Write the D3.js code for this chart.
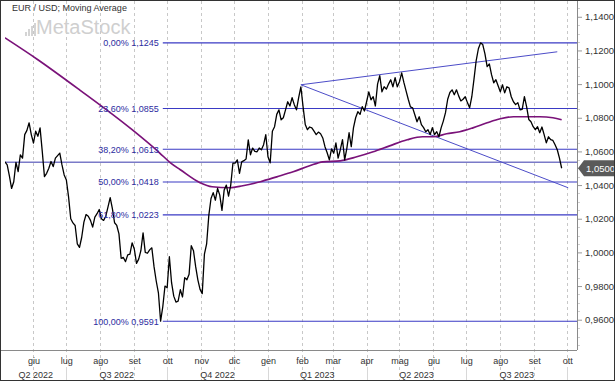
<!DOCTYPE html>
<html><head><meta charset="utf-8">
<script src="https://cdn.jsdelivr.net/npm/d3@7"></script>
<style>
html,body{margin:0;padding:0;background:#fff;}
svg{display:block;font-family:"Liberation Sans",Arial,sans-serif;}
</style></head>
<body><svg id="c" width="615" height="381"></svg>
<script>
// ---- DATA ----
const priceStart = "2022-05-06";
const priceStepDays = 2;
const priceValues = [
1.0538,1.0520,1.0455,1.0380,1.0420,1.0535,1.0480,1.0580,1.0560,1.0700,
1.0725,1.0770,1.0700,1.0650,1.0720,1.0690,1.0740,1.0600,1.0450,1.0470,
1.0500,1.0540,1.0510,1.0560,1.0575,1.0590,1.0520,1.0460,1.0430,1.0330,
1.0200,1.0175,1.0160,1.0050,1.0030,1.0090,1.0180,1.0225,1.0215,1.0190,
1.0150,1.0210,1.0230,1.0255,1.0200,1.0190,1.0215,1.0270,1.0325,1.0260,
1.0176,1.0160,1.0110,0.9965,0.9970,0.9945,0.9985,0.9990,1.0057,1.0020,
0.9935,0.9960,1.0010,1.0116,1.0000,0.9995,1.0015,1.0027,0.9915,0.9830,
0.9760,0.9591,0.9677,0.9800,0.9790,0.9974,0.9820,0.9740,0.9705,0.9710,
0.9778,0.9735,0.9850,0.9837,0.9870,1.0040,1.0010,0.9915,0.9837,0.9780,
0.9755,0.9990,1.0050,1.0220,1.0320,1.0355,1.0310,1.0380,1.0340,1.0250,
1.0370,1.0400,1.0335,1.0400,1.0530,1.0530,1.0550,1.0470,1.0538,1.0545,
1.0555,1.0669,1.0580,1.0620,1.0600,1.0598,1.0620,1.0610,1.0640,1.0699,
1.0568,1.0532,1.0720,1.0747,1.0820,1.0847,1.0788,1.0800,1.0847,1.0895,
1.0870,1.0919,1.0878,1.0847,1.0920,1.0984,1.0866,1.0760,1.0729,1.0745,
1.0740,1.0720,1.0700,1.0715,1.0705,1.0680,1.0628,1.0592,1.0550,1.0615,
1.0590,1.0650,1.0560,1.0610,1.0670,1.0550,1.0620,1.0711,1.0628,1.0740,
1.0800,1.0836,1.0820,1.0866,1.0840,1.0895,1.0954,1.0907,1.0925,1.0870,
1.1000,1.1050,1.0954,1.0984,1.0970,1.1000,1.1026,1.0984,1.1038,1.0984,
1.1014,1.1067,1.1010,1.0960,1.0910,1.0865,1.0859,1.0818,1.0776,1.0806,
1.0759,1.0741,1.0717,1.0729,1.0700,1.0741,1.0700,1.0717,1.0687,1.0740,
1.0780,1.0830,1.0910,1.0950,1.0966,1.0937,1.0966,1.0930,1.0900,1.0910,
1.0925,1.0890,1.0859,1.0925,1.1030,1.1140,1.1210,1.1245,1.1235,1.1180,
1.1104,1.1120,1.1056,1.1008,1.1026,1.0990,1.0954,1.0996,1.0948,1.0984,
1.0978,1.0925,1.0895,1.0878,1.0890,1.0847,1.0850,1.0925,1.0866,1.0790,
1.0776,1.0747,1.0729,1.0747,1.0711,1.0745,1.0700,1.0651,1.0687,1.0670,
1.0665,1.0640,1.0610,1.0560,1.0500
];
const maDates = ["2022-05-06","2022-06-05","2022-07-13","2022-08-30","2022-09-24","2022-10-04","2022-10-13","2022-10-31","2022-11-11","2022-11-27","2022-12-09","2022-12-25","2023-01-09","2023-01-24","2023-02-08","2023-02-20","2023-03-08","2023-03-23","2023-04-07","2023-04-22","2023-05-08","2023-05-22","2023-06-01","2023-06-13","2023-06-25","2023-07-07","2023-07-20","2023-08-01","2023-08-13","2023-08-25","2023-09-06","2023-09-18","2023-09-26"];
const maValues = [1.1275,1.1145,1.0966,1.0729,1.0592,1.0532,1.0491,1.0414,1.0390,1.0384,1.0396,1.0420,1.0449,1.0479,1.0515,1.0538,1.0544,1.0568,1.0598,1.0633,1.0669,1.0687,1.0687,1.0705,1.0717,1.0740,1.0770,1.0794,1.0806,1.0806,1.0806,1.0800,1.0788];
const fibPercents = ["0,00%","23,60%","38,20%","50,00%","61,80%","100,00%"];
const fibValues = [1.1245,1.0855,1.0613,1.0418,1.0223,0.9591];
const fibStart = "2022-09-27";
const hLineValue = 1.0535;
const lastPrice = 1.0500;
const trendUpper = {dates:["2023-01-31","2023-09-22"], values:[1.0996,1.1192]};
const trendLower = {dates:["2023-01-31","2023-10-02"], values:[1.0996,1.0384]};
const yTicks = [0.96,0.98,1.00,1.02,1.04,1.06,1.08,1.10,1.12,1.14];
const monthLabels = ["giu","lug","ago","set","ott","nov","dic","gen","feb","mar","apr","mag","giu","lug","ago","set","ott"];
const quarterLabels = ["Q2 2022","Q3 2022","Q4 2022","Q1 2023","Q2 2023","Q3 2023"];
const quarterStarts = ["2022-04-01","2022-07-01","2022-10-01","2023-01-01","2023-04-01","2023-07-01","2023-10-01"];
const titleText = "EUR / USD; Moving Average";

// ---- SETUP ----
const parse = d3.timeParse("%Y-%m-%d");
const L = 5, R = 577, T = 5, B = 350;
const x = d3.scaleTime().domain([new Date(2022,4,6), new Date(2023,9,10)]).range([L, R]);
const y = d3.scaleLinear().domain([0.942, 1.147]).range([B, T]);
const fmt4 = v => v.toFixed(4).replace(".", ",");
const svg = d3.select("#c");

const start = parse(priceStart);
const price = priceValues.map((v,i) => ({d: d3.timeDay.offset(start, i*priceStepDays), v}));
const ma = maValues.map((v,i) => ({d: parse(maDates[i]), v}));

svg.append("defs").append("clipPath").attr("id","clip")
  .append("rect").attr("x",L).attr("y",0).attr("width",R-L).attr("height",B);

const monthDates = d3.timeMonth.range(new Date(2022,5,1), new Date(2023,9,2));

// gridlines
svg.append("g").selectAll("line").data(monthDates).join("line")
  .attr("x1", d=>Math.round(x(d))+0.5).attr("x2", d=>Math.round(x(d))+0.5)
  .attr("y1", 1).attr("y2", 380)
  .attr("stroke","#c8c8c8").attr("stroke-dasharray","3,3").attr("stroke-width",1);

// quarter separators in label area
const qd = quarterStarts.map(parse);
svg.append("g").selectAll("line").data(qd.filter(d=>x(d)>L && x(d)<R)).join("line")
  .attr("x1", d=>Math.round(x(d))+0.5).attr("x2", d=>Math.round(x(d))+0.5)
  .attr("y1", 367).attr("y2", 380).attr("stroke","#d8d8d8");

// watermark
const wm = svg.append("g");
[[25,4],[28,7],[31,10],[34,13]].forEach(([bx,bh])=>{
  wm.append("rect").attr("x",bx).attr("y",36-bh).attr("width",2).attr("height",bh).attr("fill","#d4d4d4");
});
wm.append("text").attr("x",36).attr("y",34).attr("font-size",20).attr("fill","#cfcfcf").text("MetaStock");

// title
svg.append("text").attr("x",12).attr("y",11).attr("font-size",9).attr("fill","#333").text(titleText);

const plot = svg.append("g").attr("clip-path","url(#clip)");

// horizontal line
plot.append("line").attr("x1",L).attr("x2",R).attr("y1",y(hLineValue)).attr("y2",y(hLineValue))
  .attr("stroke","#7a7ac8").attr("stroke-width",1.5);

// fib lines
const fx = x(parse(fibStart));
plot.append("g").selectAll("line").data(fibValues).join("line")
  .attr("x1", fx).attr("x2", R).attr("y1", d=>y(d)).attr("y2", d=>y(d))
  .attr("stroke","#3a3ac4").attr("stroke-width",1.1);

// trend lines
[trendUpper, trendLower].forEach(t=>{
  plot.append("line")
    .attr("x1", x(parse(t.dates[0]))).attr("y1", y(t.values[0]))
    .attr("x2", x(parse(t.dates[1]))).attr("y2", y(t.values[1]))
    .attr("stroke","#4c4cc8").attr("stroke-width",1);
});

// MA
plot.append("path").datum(ma)
  .attr("d", d3.line().x(d=>x(d.d)).y(d=>y(d.v)).curve(d3.curveMonotoneX))
  .attr("fill","none").attr("stroke","#7a1279").attr("stroke-width",1.7);

// price
plot.append("path").datum(price)
  .attr("d", d3.line().x(d=>x(d.d)).y(d=>y(d.v)))
  .attr("fill","none").attr("stroke","#000").attr("stroke-width",1.3).attr("stroke-linejoin","round");

// fib labels
svg.append("g").selectAll("text").data(fibValues).join("text")
  .attr("x", fx - 4).attr("y", d=>y(d)+3.4).attr("text-anchor","end")
  .attr("font-size",9).attr("fill","#2c2ca0")
  .text((d,i)=>fibPercents[i]+" "+fmt4(d));

// right axis
const ax = svg.append("g").attr("transform",`translate(${R},0)`);
const minor = d3.range(0.945, 1.146, 0.005).filter(v=>!yTicks.some(t=>Math.abs(t-v)<1e-6));
ax.selectAll("line.minor").data(minor).join("line").attr("class","minor")
  .attr("x1",0).attr("x2",3).attr("y1",d=>Math.round(y(d))+0.5).attr("y2",d=>Math.round(y(d))+0.5)
  .attr("stroke","#d0d0d0");
const yAxis = d3.axisRight(y).tickValues(yTicks).tickSize(5).tickPadding(3).tickFormat(fmt4);
ax.call(yAxis);
ax.select(".domain").remove();
ax.selectAll(".tick line").attr("stroke","#999");
ax.selectAll(".tick text").attr("font-size",9.5).attr("fill","#333").attr("font-family","Liberation Sans, Arial, sans-serif");
svg.append("line").attr("x1",R+0.5).attr("x2",R+0.5).attr("y1",0).attr("y2",B).attr("stroke","#8a8a8a");

// bottom axis
svg.append("line").attr("x1",0).attr("x2",R).attr("y1",B+0.5).attr("y2",B+0.5).attr("stroke","#8a8a8a");
const xAxis = d3.axisBottom(x).tickValues(monthDates).tickSize(0).tickPadding(8).tickFormat((d,i)=>monthLabels[i]);
const bx = svg.append("g").attr("transform",`translate(0,${B})`).call(xAxis);
bx.select(".domain").remove();
bx.selectAll(".tick text").attr("font-size",9).attr("fill","#333").attr("font-family","Liberation Sans, Arial, sans-serif");

// quarter labels
svg.append("g").selectAll("text").data(quarterLabels).join("text")
  .attr("x",(d,i)=>(Math.max(L,x(qd[i]))+Math.min(R-10,x(qd[i+1])))/2)
  .attr("y",378).attr("text-anchor","middle").attr("font-size",9).attr("fill","#333").text(d=>d);

// last price tag
const ly = y(lastPrice);
svg.append("path").attr("d",`M${R+1},${ly} L${R+7},${ly-8} L614,${ly-8} L614,${ly+8} L${R+7},${ly+8} Z`).attr("fill","#5a5a5a");
svg.append("text").attr("x",R+9).attr("y",ly+3.5).attr("font-size",9.5).attr("fill","#fff").text(fmt4(lastPrice));

// outer frame
svg.append("rect").attr("x",0.5).attr("y",0.5).attr("width",614).attr("height",380).attr("fill","none").attr("stroke","#333");
</script></body></html>
